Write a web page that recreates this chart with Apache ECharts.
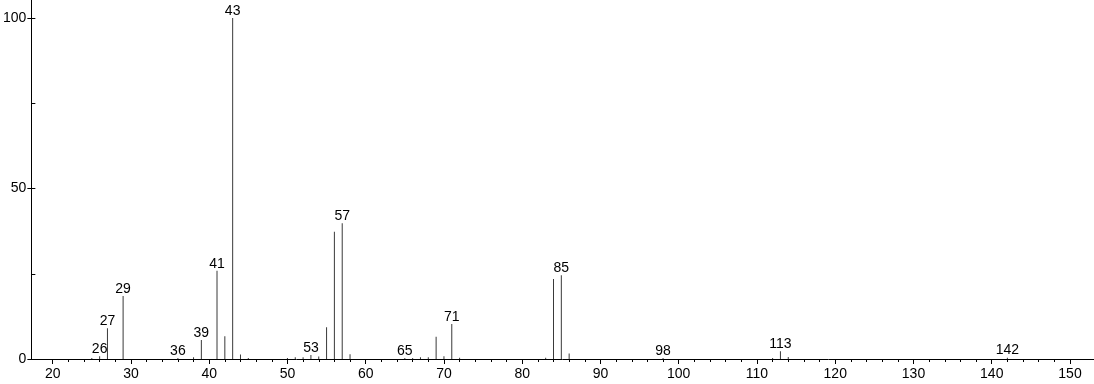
<!DOCTYPE html>
<html>
<head>
<meta charset="utf-8">
<script src="https://cdn.jsdelivr.net/npm/echarts@6/dist/echarts.min.js"></script>
<style>
html,body{margin:0;padding:0;background:#fff;}
#chart{width:1094px;height:384px;}
</style>
</head>
<body>
<div id="chart"></div>
<script>
// m/z values and relative intensities
var mz = [25, 26, 27, 29, 36, 38, 39, 41, 42, 43, 44, 45, 50, 51, 52, 53, 54, 55, 56, 57, 58, 65, 66, 67, 68, 69, 70, 71, 72, 83, 84, 85, 86, 98, 112, 113, 114, 142];
var intensity = [0.3, 0.8, 9.0, 18.5, 0.3, 0.5, 5.6, 25.9, 6.7, 100, 1.3, 0.3, 0.3, 0.5, 0.5, 1.2, 0.7, 9.3, 37.3, 39.8, 1.4, 0.3, 0.3, 0.5, 0.5, 6.5, 0.8, 10.3, 0.4, 0.4, 23.5, 24.6, 1.6, 0.3, 0.3, 2.3, 0.6, 0.4];
var labeled = [26, 27, 29, 36, 39, 41, 43, 53, 57, 65, 71, 85, 98, 113, 142];
var xTickLabels = [20, 30, 40, 50, 60, 70, 80, 90, 100, 110, 120, 130, 140, 150];
var yTickLabels = [0, 50, 100];

var data = mz.map(function (m, i) {
  var item = { value: [m, intensity[i]] };
  if (labeled.indexOf(m) >= 0) {
    item.label = { show: true };
  }
  return item;
});

var FONT = 'Liberation Sans, Arial, sans-serif';
var chart = echarts.init(document.getElementById('chart'), null, { renderer: 'canvas' });
chart.setOption({
  animation: false,
  backgroundColor: '#ffffff',
  textStyle: { fontFamily: FONT },
  grid: [
    // data grid
    { left: 31, right: 0, top: 0, bottom: 25, containLabel: false },
    // x tick grid (20..150)
    { left: 52.7, right: 24, top: 0, bottom: 25, containLabel: false },
    // y tick grid (0..100)
    { left: 31, right: 0, top: 18.1, bottom: 25, containLabel: false }
  ],
  xAxis: [
    {
      type: 'value',
      gridIndex: 0,
      min: 17.23,
      max: 153.07,
      splitLine: { show: false },
      axisLine: { lineStyle: { color: '#000', width: 1 } },
      axisTick: { show: false },
      axisLabel: { show: false }
    },
    {
      type: 'value',
      gridIndex: 1,
      min: xTickLabels[0],
      max: xTickLabels[xTickLabels.length - 1],
      interval: 10,
      splitLine: { show: false },
      axisLine: { show: false },
      axisTick: { show: true, length: 5, lineStyle: { color: '#000' } },
      minorTick: { show: true, splitNumber: 5, length: 3, lineStyle: { color: '#000' } },
      minorSplitLine: { show: false },
      axisLabel: {
        color: '#000', fontSize: 14, margin: 8,
        formatter: function (v) {
          return xTickLabels.indexOf(Math.round(v)) >= 0 ? String(Math.round(v)) : '';
        }
      }
    },
    {
      type: 'value',
      gridIndex: 2,
      min: 0,
      max: 1,
      show: false
    }
  ],
  yAxis: [
    {
      type: 'value',
      gridIndex: 0,
      min: 0,
      max: 105.3,
      splitLine: { show: false },
      axisLine: { show: true, lineStyle: { color: '#000', width: 1 } },
      axisTick: { show: false },
      axisLabel: { show: false }
    },
    {
      type: 'value',
      gridIndex: 1,
      min: 0,
      max: 105.3,
      show: false
    },
    {
      type: 'value',
      gridIndex: 2,
      min: yTickLabels[0],
      max: yTickLabels[yTickLabels.length - 1],
      interval: 50,
      splitLine: { show: false },
      axisLine: { show: false },
      axisTick: { show: true, length: 8, lineStyle: { color: '#000' } },
      minorTick: { show: true, splitNumber: 2, length: 4, lineStyle: { color: '#000' } },
      minorSplitLine: { show: false },
      axisLabel: {
        color: '#000', fontSize: 14, margin: 9,
        formatter: function (v) { return String(Math.round(v)); }
      }
    }
  ],
  series: [{
    type: 'bar',
    xAxisIndex: 0,
    yAxisIndex: 0,
    barWidth: 1,
    data: data,
    itemStyle: { color: '#3a3a3a' },
    label: {
      show: false,
      position: 'top',
      distance: 0,
      color: '#000',
      fontSize: 14,
      formatter: function (p) { return String(p.value[0]); }
    }
  }]
});
</script>
</body>
</html>
